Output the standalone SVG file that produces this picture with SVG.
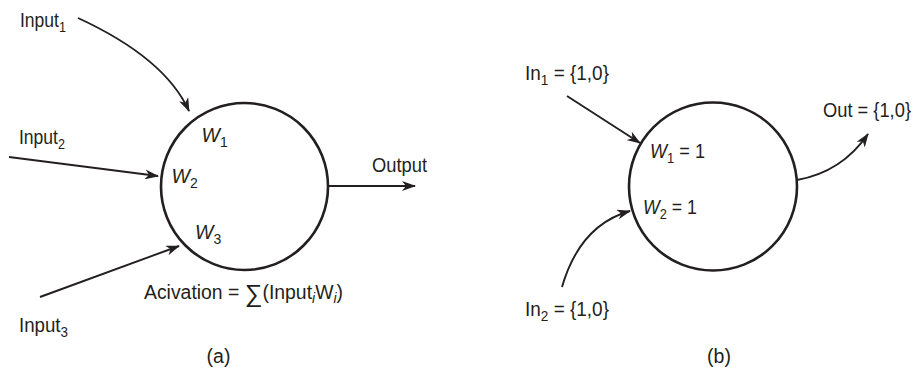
<svg xmlns="http://www.w3.org/2000/svg" width="914" height="371" viewBox="0 0 914 371">
<style>
text{font-family:"Liberation Sans",Arial,sans-serif;font-size:19.5px;fill:#231f20}
.sub{font-size:14px}
.it{font-style:italic}
.node{fill:none;stroke:#231f20;stroke-width:2.6}
.conn{fill:none;stroke:#231f20;stroke-width:1.9}
</style>
<defs>
<marker id="arr" viewBox="0 0 14 10" refX="13" refY="5" markerWidth="14" markerHeight="10" markerUnits="userSpaceOnUse" orient="auto">
<path d="M0,0 L14,5 L0,10 L4,5 z" fill="#231f20"/>
</marker>
</defs>
<rect width="914" height="371" fill="#fff"/>
<g id="connectors">
<path class="conn" d="M78,18 Q165,58 189,111" marker-end="url(#arr)"/>
<path class="conn" d="M9,157 L158,176" marker-end="url(#arr)"/>
<path class="conn" d="M40,297 L179,246" marker-end="url(#arr)"/>
<path class="conn" d="M328,186 L415,186" marker-end="url(#arr)"/>
<path class="conn" d="M567,96 L640,143" marker-end="url(#arr)"/>
<path class="conn" d="M797,180 Q842,172 868,134" marker-end="url(#arr)"/>
<path class="conn" d="M562,287 Q580,225 630,211" marker-end="url(#arr)"/>
</g>
<g id="neuron-a">
<circle class="node" cx="244.5" cy="186.5" r="83.5"/>
<text x="201.5" y="141.5"><tspan class="it">W</tspan><tspan class="sub" dy="5">1</tspan></text>
<text x="171.5" y="183"><tspan class="it">W</tspan><tspan class="sub" dy="5">2</tspan></text>
<text x="195" y="239"><tspan class="it">W</tspan><tspan class="sub" dy="5">3</tspan></text>
<text x="144" y="299" textLength="199" lengthAdjust="spacingAndGlyphs">Acivation = <tspan font-size="25" dy="3">∑</tspan><tspan dy="-3">(Input</tspan><tspan class="sub it" dy="4">i</tspan><tspan dy="-4">W</tspan><tspan class="sub it" dy="4">i</tspan><tspan dy="-4">)</tspan></text>
</g>
<g id="input1-a"><text x="20" y="26.5" textLength="46" lengthAdjust="spacingAndGlyphs">Input<tspan class="sub" dy="5">1</tspan></text></g>
<g id="input2-a"><text x="19" y="144" textLength="46" lengthAdjust="spacingAndGlyphs">Input<tspan class="sub" dy="5">2</tspan></text></g>
<g id="input3-a"><text x="19" y="331.5" textLength="49" lengthAdjust="spacingAndGlyphs">Input<tspan class="sub" dy="5">3</tspan></text></g>
<g id="output-a"><text x="372" y="172" textLength="55" lengthAdjust="spacingAndGlyphs">Output</text></g>
<g id="caption-a"><text x="218.5" y="363" text-anchor="middle">(a)</text></g>
<g id="neuron-b">
<circle class="node" cx="713" cy="186.5" r="84"/>
<text x="650" y="158" textLength="55" lengthAdjust="spacingAndGlyphs"><tspan class="it">W</tspan><tspan class="sub" dy="5">1</tspan><tspan dy="-5"> = 1</tspan></text>
<text x="643" y="214" textLength="54" lengthAdjust="spacingAndGlyphs"><tspan class="it">W</tspan><tspan class="sub" dy="5">2</tspan><tspan dy="-5"> = 1</tspan></text>
</g>
<g id="in1-b"><text x="525" y="80" textLength="84" lengthAdjust="spacingAndGlyphs">In<tspan class="sub" dy="5">1</tspan><tspan dy="-5"> = {1,0}</tspan></text></g>
<g id="in2-b"><text x="525" y="316" textLength="84" lengthAdjust="spacingAndGlyphs">In<tspan class="sub" dy="5">2</tspan><tspan dy="-5"> = {1,0}</tspan></text></g>
<g id="out-b"><text x="823" y="117" textLength="88" lengthAdjust="spacingAndGlyphs">Out = {1,0}</text></g>
<g id="caption-b"><text x="719" y="363" text-anchor="middle">(b)</text></g>
</svg>
